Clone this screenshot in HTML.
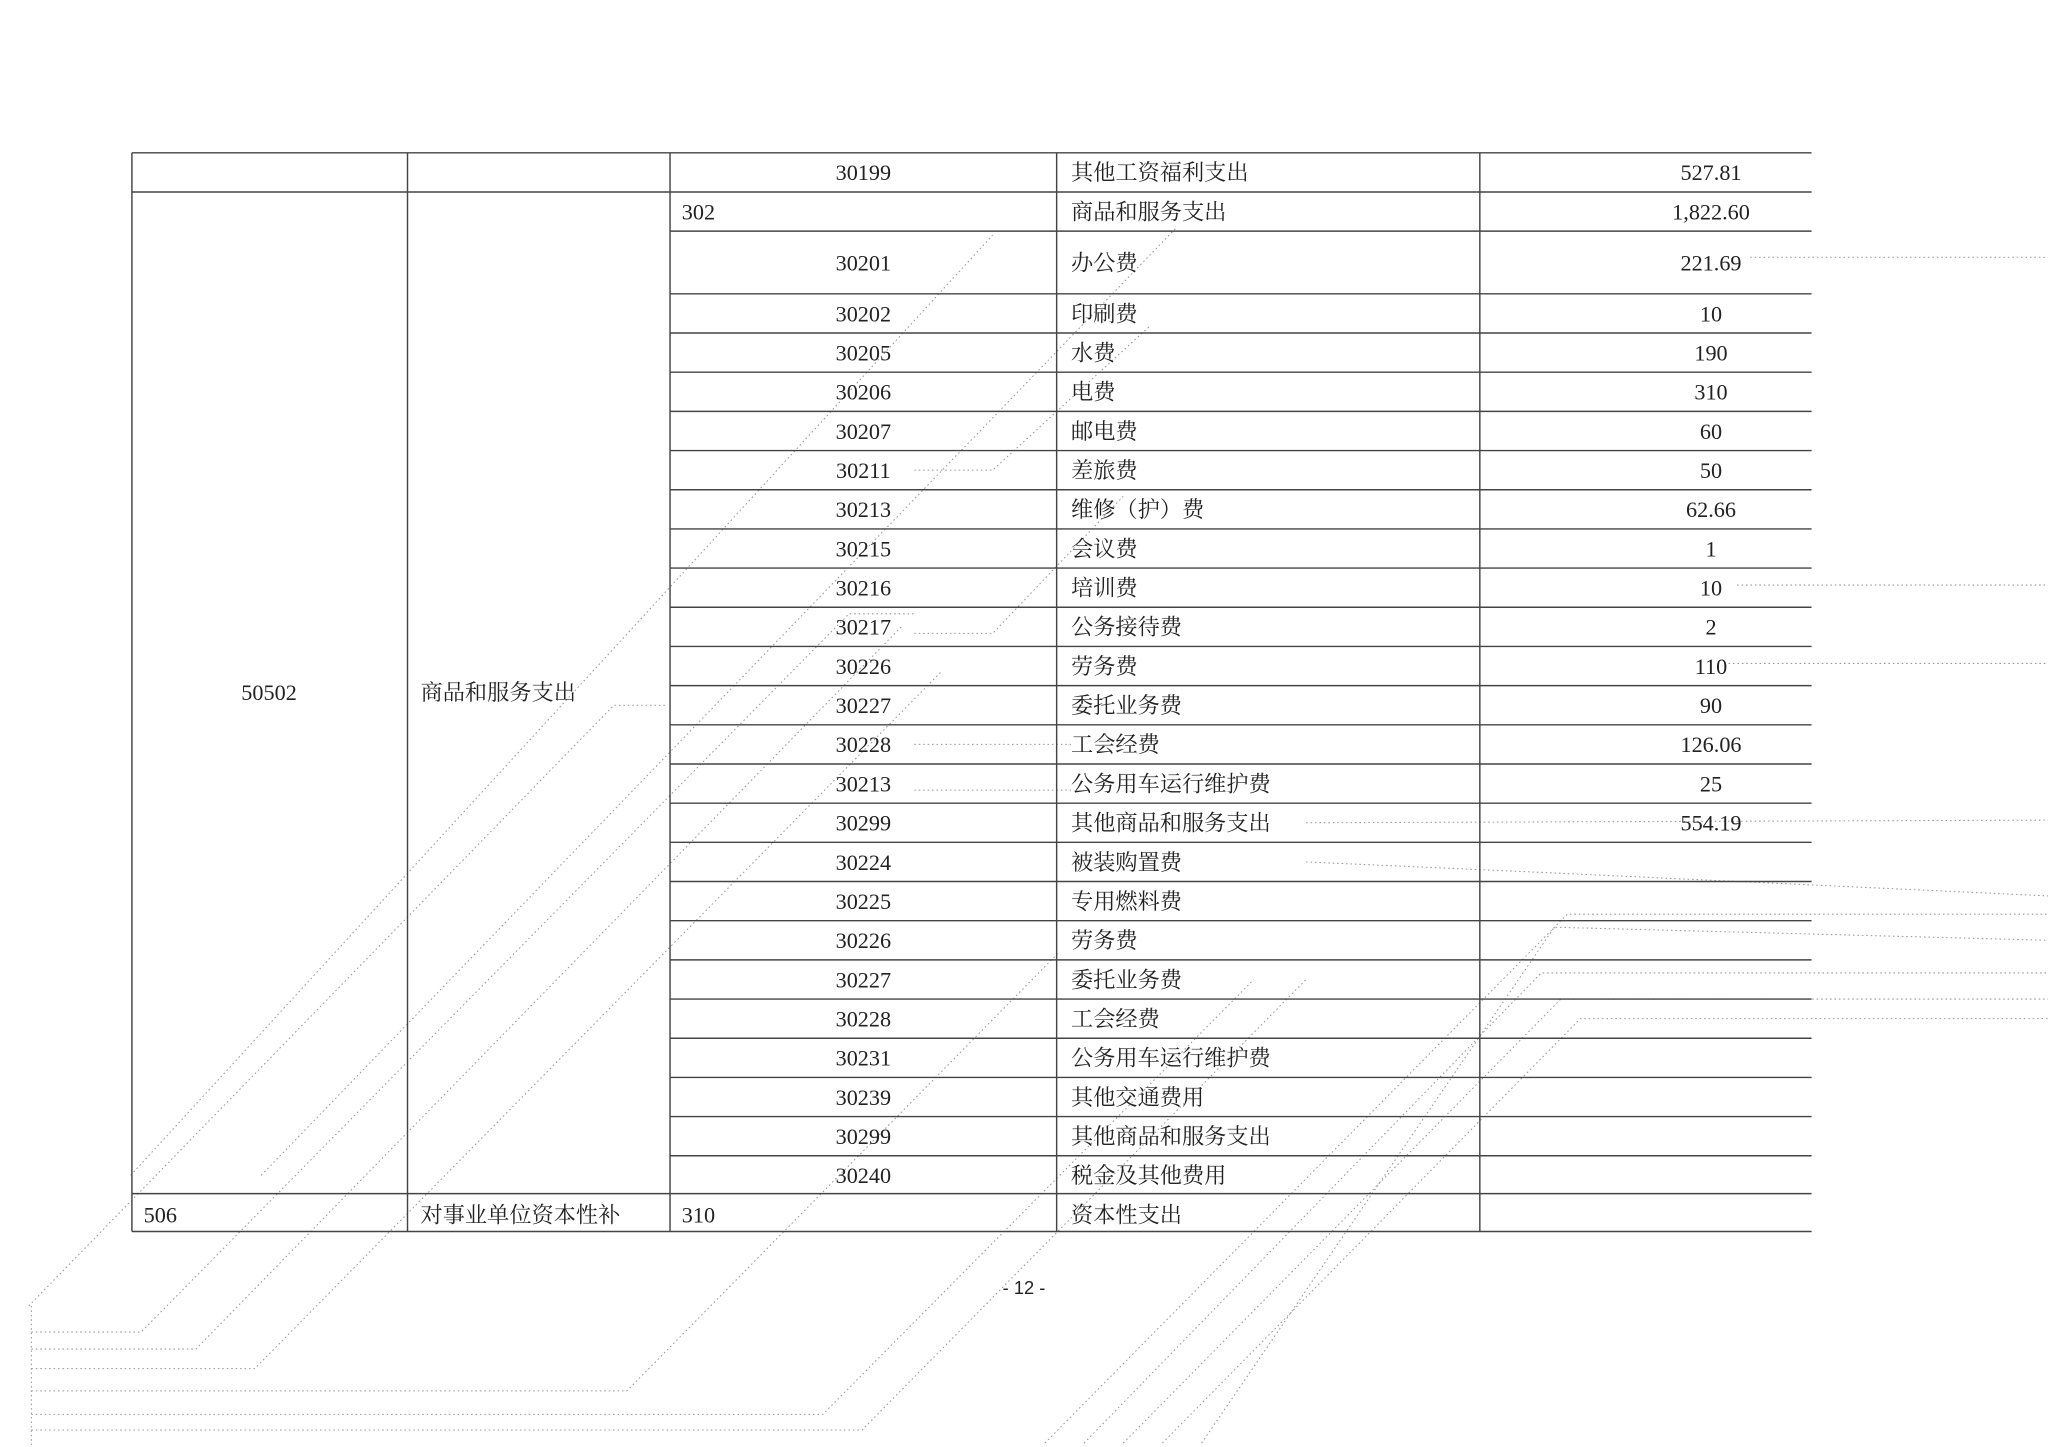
<!DOCTYPE html>
<html><head><meta charset="utf-8"><style>
html,body{margin:0;padding:0;background:#fff;width:2048px;height:1447px;overflow:hidden}
svg{display:block}
text{font-family:"Liberation Serif","Noto Serif CJK SC",serif;font-size:17px;fill:#222}
.c{text-anchor:middle}
.d{stroke:#999;stroke-width:0.8;stroke-dasharray:1.2 2.2;fill:none}
</style></head><body>
<svg width="2048" height="1447" viewBox="0 0 1568 1108" preserveAspectRatio="none">
<g class="d">
<path d="M22 1000 L470 540 L510 540"/>
<path d="M24 1020 L108 1020 L650 470 L700 470"/>
<path d="M24 1033 L150 1033 L690 480"/>
<path d="M24 1048 L195 1048 L720 515"/>
<path d="M24 1065 L480 1065 L810 730"/>
<path d="M24 1083 L630 1083 L960 750"/>
<path d="M24 1095 L660 1095 L1000 750"/>
<path d="M24 1000 L24 1108"/>
<path d="M800 1105 L1200 700 L1568 700"/>
<path d="M830 1105 L1180 745 L1568 745"/>
<path d="M860 1105 L1195 765 L1568 765"/>
<path d="M890 1105 L1210 780 L1568 780"/>
<path d="M920 1105 L1190 710 L1568 720"/>
<path d="M100 900 L760 180"/>
<path d="M200 900 L900 175"/>
<path d="M1340 197 L1568 197"/>
<path d="M1000 630 L1568 628"/>
<path d="M1000 660 L1180 668 L1568 686"/>
<path d="M1330 448 L1568 448"/>
<path d="M1320 508 L1568 508"/>
<path d="M700 360 L760 360 L880 250"/>
<path d="M700 485 L760 485 L860 380"/>
<path d="M700 570 L820 570"/>
<path d="M700 605 L820 605"/>
</g>
<g stroke="#444" stroke-width="1.1">
<line x1="101" y1="117" x2="1387" y2="117"/>
<line x1="101" y1="147" x2="1387" y2="147"/>
<line x1="513" y1="177" x2="1387" y2="177"/>
<line x1="513" y1="225" x2="1387" y2="225"/>
<line x1="513" y1="255" x2="1387" y2="255"/>
<line x1="513" y1="285" x2="1387" y2="285"/>
<line x1="513" y1="315" x2="1387" y2="315"/>
<line x1="513" y1="345" x2="1387" y2="345"/>
<line x1="513" y1="375" x2="1387" y2="375"/>
<line x1="513" y1="405" x2="1387" y2="405"/>
<line x1="513" y1="435" x2="1387" y2="435"/>
<line x1="513" y1="465" x2="1387" y2="465"/>
<line x1="513" y1="495" x2="1387" y2="495"/>
<line x1="513" y1="525" x2="1387" y2="525"/>
<line x1="513" y1="555" x2="1387" y2="555"/>
<line x1="513" y1="585" x2="1387" y2="585"/>
<line x1="513" y1="615" x2="1387" y2="615"/>
<line x1="513" y1="645" x2="1387" y2="645"/>
<line x1="513" y1="675" x2="1387" y2="675"/>
<line x1="513" y1="705" x2="1387" y2="705"/>
<line x1="513" y1="735" x2="1387" y2="735"/>
<line x1="513" y1="765" x2="1387" y2="765"/>
<line x1="513" y1="795" x2="1387" y2="795"/>
<line x1="513" y1="825" x2="1387" y2="825"/>
<line x1="513" y1="855" x2="1387" y2="855"/>
<line x1="513" y1="885" x2="1387" y2="885"/>
<line x1="101" y1="914" x2="1387" y2="914"/>
<line x1="101" y1="943" x2="1387" y2="943"/>
<line x1="101" y1="117" x2="101" y2="943"/>
<line x1="312" y1="117" x2="312" y2="943"/>
<line x1="513" y1="117" x2="513" y2="943"/>
<line x1="809" y1="117" x2="809" y2="943"/>
<line x1="1133" y1="117" x2="1133" y2="943"/>
</g>
<g>
<text class="c" x="661" y="138">30199</text><text x="820" y="138">其他工资福利支出</text><text class="c" x="1310" y="138">527.81</text>
<text x="522" y="168">302</text><text x="820" y="168">商品和服务支出</text><text class="c" x="1310" y="168">1,822.60</text>
<text class="c" x="661" y="207">30201</text><text x="820" y="207">办公费</text><text class="c" x="1310" y="207">221.69</text>
<text class="c" x="661" y="246">30202</text><text x="820" y="246">印刷费</text><text class="c" x="1310" y="246">10</text>
<text class="c" x="661" y="276">30205</text><text x="820" y="276">水费</text><text class="c" x="1310" y="276">190</text>
<text class="c" x="661" y="306">30206</text><text x="820" y="306">电费</text><text class="c" x="1310" y="306">310</text>
<text class="c" x="661" y="336">30207</text><text x="820" y="336">邮电费</text><text class="c" x="1310" y="336">60</text>
<text class="c" x="661" y="366">30211</text><text x="820" y="366">差旅费</text><text class="c" x="1310" y="366">50</text>
<text class="c" x="661" y="396">30213</text><text x="820" y="396">维修（护）费</text><text class="c" x="1310" y="396">62.66</text>
<text class="c" x="661" y="426">30215</text><text x="820" y="426">会议费</text><text class="c" x="1310" y="426">1</text>
<text class="c" x="661" y="456">30216</text><text x="820" y="456">培训费</text><text class="c" x="1310" y="456">10</text>
<text class="c" x="661" y="486">30217</text><text x="820" y="486">公务接待费</text><text class="c" x="1310" y="486">2</text>
<text class="c" x="661" y="516">30226</text><text x="820" y="516">劳务费</text><text class="c" x="1310" y="516">110</text>
<text class="c" x="661" y="546">30227</text><text x="820" y="546">委托业务费</text><text class="c" x="1310" y="546">90</text>
<text class="c" x="661" y="576">30228</text><text x="820" y="576">工会经费</text><text class="c" x="1310" y="576">126.06</text>
<text class="c" x="661" y="606">30213</text><text x="820" y="606">公务用车运行维护费</text><text class="c" x="1310" y="606">25</text>
<text class="c" x="661" y="636">30299</text><text x="820" y="636">其他商品和服务支出</text><text class="c" x="1310" y="636">554.19</text>
<text class="c" x="661" y="666">30224</text><text x="820" y="666">被装购置费</text>
<text class="c" x="661" y="696">30225</text><text x="820" y="696">专用燃料费</text>
<text class="c" x="661" y="726">30226</text><text x="820" y="726">劳务费</text>
<text class="c" x="661" y="756">30227</text><text x="820" y="756">委托业务费</text>
<text class="c" x="661" y="786">30228</text><text x="820" y="786">工会经费</text>
<text class="c" x="661" y="816">30231</text><text x="820" y="816">公务用车运行维护费</text>
<text class="c" x="661" y="846">30239</text><text x="820" y="846">其他交通费用</text>
<text class="c" x="661" y="876">30299</text><text x="820" y="876">其他商品和服务支出</text>
<text class="c" x="661" y="906">30240</text><text x="820" y="906">税金及其他费用</text>
<text class="c" x="206" y="536">50502</text><text x="322" y="536">商品和服务支出</text>
<text x="110" y="936">506</text><text x="322" y="936">对事业单位资本性补</text><text x="522" y="936">310</text><text x="820" y="936">资本性支出</text>
<text class="c" x="784" y="991" style="font-family:'Liberation Sans',sans-serif;font-size:14px">- 12 -</text>
</g>
</svg>
</body></html>
